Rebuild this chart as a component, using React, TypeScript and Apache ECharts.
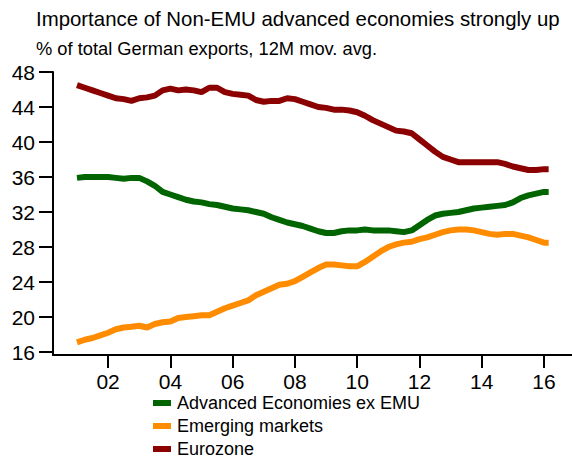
import React, { useEffect, useRef } from "react";
import * as echarts from "echarts";

const years = [
  2001.0, 2001.25, 2001.5, 2001.75, 2002.0, 2002.25, 2002.5, 2002.75,
  2003.0, 2003.25, 2003.5, 2003.75, 2004.0, 2004.25, 2004.5, 2004.75,
  2005.0, 2005.25, 2005.5, 2005.75, 2006.0, 2006.25, 2006.5, 2006.75,
  2007.0, 2007.25, 2007.5, 2007.75, 2008.0, 2008.25, 2008.5, 2008.75,
  2009.0, 2009.25, 2009.5, 2009.75, 2010.0, 2010.25, 2010.5, 2010.75,
  2011.0, 2011.25, 2011.5, 2011.75, 2012.0, 2012.25, 2012.5, 2012.75,
  2013.0, 2013.25, 2013.5, 2013.75, 2014.0, 2014.25, 2014.5, 2014.75,
  2015.0, 2015.25, 2015.5, 2015.75, 2016.0, 2016.15,
];

const advancedExEmu = [
  35.9, 36.0, 36.0, 36.0, 36.0, 35.9, 35.8, 35.9,
  35.9, 35.5, 35.0, 34.3, 34.0, 33.7, 33.4, 33.2,
  33.1, 32.9, 32.8, 32.6, 32.4, 32.3, 32.2, 32.0,
  31.8, 31.4, 31.1, 30.8, 30.6, 30.4, 30.1, 29.8,
  29.6, 29.6, 29.8, 29.9, 29.9, 30.0, 29.9, 29.9,
  29.9, 29.8, 29.7, 29.9, 30.5, 31.1, 31.6, 31.8,
  31.9, 32.0, 32.2, 32.4, 32.5, 32.6, 32.7, 32.8,
  33.1, 33.6, 33.9, 34.1, 34.3, 34.3,
];

const emergingMarkets = [
  17.1, 17.4, 17.6, 17.9, 18.2, 18.6, 18.8, 18.9,
  19.0, 18.8, 19.2, 19.4, 19.5, 19.9, 20.0, 20.1,
  20.2, 20.2, 20.6, 21.0, 21.3, 21.6, 21.9, 22.5,
  22.9, 23.3, 23.7, 23.8, 24.1, 24.6, 25.1, 25.6,
  26.0, 26.0, 25.9, 25.8, 25.8, 26.3, 26.9, 27.5,
  28.0, 28.3, 28.5, 28.6, 28.9, 29.1, 29.4, 29.7,
  29.9, 30.0, 30.0, 29.9, 29.7, 29.5, 29.4, 29.5,
  29.5, 29.3, 29.1, 28.8, 28.5, 28.5,
];

const eurozone = [
  46.5, 46.2, 45.9, 45.6, 45.3, 45.0, 44.9, 44.7,
  45.0, 45.1, 45.3, 45.9, 46.1, 45.9, 46.0, 45.9,
  45.7, 46.2, 46.2, 45.7, 45.5, 45.4, 45.3, 44.8,
  44.6, 44.7, 44.7, 45.0, 44.9, 44.6, 44.3, 44.0,
  43.9, 43.7, 43.7, 43.6, 43.4, 43.0, 42.5, 42.1,
  41.7, 41.3, 41.2, 41.0, 40.3, 39.6, 38.9, 38.3,
  38.0, 37.7, 37.7, 37.7, 37.7, 37.7, 37.7, 37.5,
  37.2, 37.0, 36.8, 36.8, 36.9, 36.9,
];

const xTickYears = [2002, 2004, 2006, 2008, 2010, 2012, 2014, 2016];
const yTickValues = [16, 20, 24, 28, 32, 36, 40, 44, 48];
const seriesNames = ["Advanced Economies ex EMU", "Emerging markets", "Eurozone"];
const seriesColors = ["#006400", "#FF8C00", "#8B0000"];

const FONT = "Liberation Sans, Arial, sans-serif";

export default function App() {
  const ref = useRef<HTMLDivElement>(null);

  useEffect(() => {
    if (!ref.current) return;
    const chart = echarts.init(ref.current, undefined, { renderer: "svg" });
    const allValues = [advancedExEmu, emergingMarkets, eurozone];
    chart.setOption({
      animation: false,
      backgroundColor: "#ffffff",
      textStyle: { fontFamily: FONT, color: "#000" },
      title: [
        {
          text: "Importance of Non-EMU advanced economies strongly up",
          left: 36,
          top: 8.8,
          padding: 0,
          textStyle: { fontFamily: FONT, fontSize: 20.4, lineHeight: 20.4, fontWeight: "normal", color: "#000" },
        },
        {
          text: "% of total German exports, 12M mov. avg.",
          left: 36,
          top: 39.5,
          padding: 0,
          textStyle: { fontFamily: FONT, fontSize: 18.3, lineHeight: 18.3, fontWeight: "normal", color: "#000" },
        },
      ],
      legend: seriesNames.map((name, i) => ({
        orient: "vertical",
        left: 153,
        top: 394 + 23 * i,
        padding: 0,
        itemWidth: 18,
        itemHeight: 6,
        icon: "rect",
        data: [name],
        textStyle: { fontFamily: FONT, fontSize: 18, color: "#000", lineHeight: 18, padding: [0, 0, 0, 1] },
      })),
      grid: { left: 53, right: 0, top: 72, bottom: 104, containLabel: false },
      xAxis: {
        type: "value",
        min: 2000.23,
        max: 2016.9,
        axisLine: { show: true, lineStyle: { color: "#000", width: 2 } },
        axisTick: {
          show: true,
          inside: false,
          length: 13,
          customValues: xTickYears,
          lineStyle: { color: "#000", width: 2 },
        },
        axisLabel: {
          customValues: xTickYears,
          margin: 16,
          fontSize: 21,
          fontFamily: FONT,
          color: "#000",
          formatter: (v: number) => String(Math.round(v) % 100).padStart(2, "0"),
        },
        splitLine: { show: false },
      },
      yAxis: {
        type: "value",
        min: 15.66,
        max: 48,
        axisLine: { show: true, lineStyle: { color: "#000", width: 2 } },
        axisTick: {
          show: true,
          inside: false,
          length: 14,
          customValues: yTickValues,
          lineStyle: { color: "#000", width: 2 },
        },
        axisLabel: {
          customValues: yTickValues,
          margin: 18,
          fontSize: 21,
          fontFamily: FONT,
          color: "#000",
        },
        splitLine: { show: false },
      },
      series: seriesNames.map((name, i) => ({
        name,
        type: "line",
        data: years.map((y, j) => [y, allValues[i][j]]),
        showSymbol: false,
        symbol: "none",
        lineStyle: { color: seriesColors[i], width: 6 },
        itemStyle: { color: seriesColors[i] },
        z: 3 - i,
      })),
    });
    return () => chart.dispose();
  }, []);

  return (
    <div
      ref={ref}
      style={{ position: "fixed", left: 0, top: 0, width: 572, height: 459 }}
    />
  );
}
